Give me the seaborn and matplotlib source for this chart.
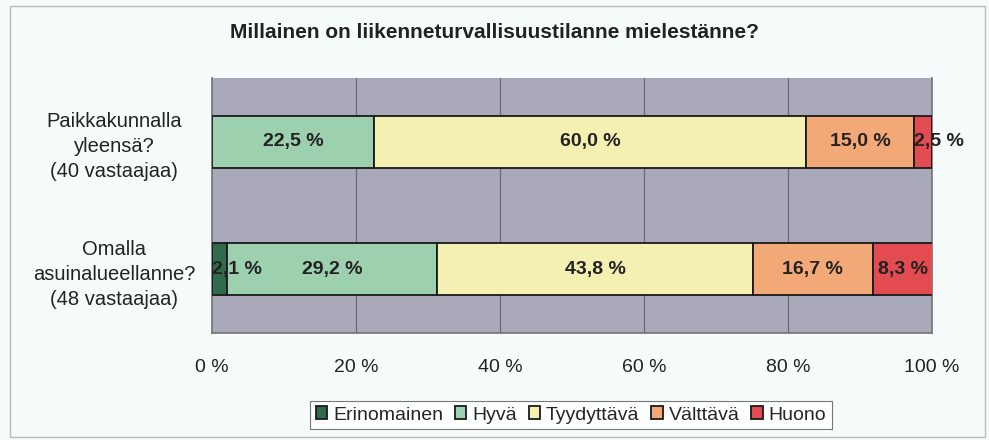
import matplotlib
matplotlib.use("Agg")
import matplotlib.pyplot as plt
import seaborn as sns
import numpy as np
import pandas as pd
from matplotlib.patches import Rectangle

categories = ["Paikkakunnalla\nyleensä?\n(40 vastaajaa)", "Omalla\nasuinalueellanne?\n(48 vastaajaa)"]
series = ["Erinomainen", "Hyvä", "Tyydyttävä", "Välttävä", "Huono"]
erinomainen = [0.0, 2.1]
hyva = [22.5, 29.2]
tyydyttava = [60.0, 43.8]
valttava = [15.0, 16.7]
huono = [2.5, 8.3]
xticks = [0, 20, 40, 60, 80, 100]
colors = ["#2f6b4c", "#9dd0ae", "#f3f0b2", "#f3a877", "#e24b4f"]

sns.set_theme(style="white")
plt.rcParams["font.family"] = ["Liberation Sans", "DejaVu Sans"]

df = pd.DataFrame({"Erinomainen": erinomainen, "Hyvä": hyva, "Tyydyttävä": tyydyttava,
                   "Välttävä": valttava, "Huono": huono}, index=categories)

fig = plt.figure(figsize=(9.89, 4.40), dpi=100, facecolor="#f6fcfc")
ax = fig.add_axes([212/989, 1-333/440, 720/989, 255/440])
ax.set_facecolor("#a9a9b9")

ypos = np.arange(len(categories))
left = np.zeros(len(categories))
handles = []
for s, c in zip(series, colors):
    vals = df[s].values
    h = ax.barh(ypos, vals, left=left, height=0.41, color=c, edgecolor="#1a1a1a",
                linewidth=1.3, label=s, zorder=3)
    handles.append(h)
    for y, v, l in zip(ypos, vals, left):
        if v <= 0:
            continue
        lab = f"{v:.1f} %".replace(".", ",")
        if v < 5:
            ax.text(l, y, lab, ha="left", va="center",
                    fontsize=14, fontweight="bold", color="#222222", zorder=5)
        else:
            ax.text(l + v / 2, y, lab, ha="center", va="center",
                    fontsize=14, fontweight="bold", color="#222222", zorder=5)
    left = left + vals

ax.set_xlim(0, 100)
ax.set_ylim(1.5, -0.5)
ax.set_xticks(xticks)
ax.set_xticklabels([f"{t} %" for t in xticks], fontsize=14, color="#222222")
ax.set_yticks(ypos)
ax.set_yticklabels(categories, fontsize=14.5, color="#222222", linespacing=1.4)
ax.set_yticks([-0.5, 0.5, 1.5], minor=True)
ax.tick_params(axis="y", which="major", length=0, pad=0)
ax.tick_params(axis="y", which="minor", length=5, color="#666666", width=1, direction="out")
ax.tick_params(axis="x", which="major", length=6, color="#666666", width=1, pad=13, direction="out")
for lab in ax.get_yticklabels():
    lab.set_horizontalalignment("center")
    lab.set_x(-(212 - 114) / 720)
for x in xticks[1:-1]:
    ax.axvline(x, color="#6a6a74", linewidth=0.9, zorder=1)
for sp in ax.spines.values():
    sp.set_visible(False)
for side in ["left", "bottom", "right"]:
    ax.spines[side].set_visible(True)
    ax.spines[side].set_color("#777777")

fig.text(494/989, 1 - 32/440, "Millainen on liikenneturvallisuustilanne mielestänne?",
         ha="center", va="center", fontsize=15, fontweight="bold", color="#222222")

leg = fig.legend(handles=handles, labels=series, loc="center", bbox_to_anchor=(571/989, 1-415/440),
                 ncol=5, fontsize=14, frameon=True, fancybox=False, edgecolor="#555555",
                 facecolor="white", handlelength=0.6, handleheight=0.6, handletextpad=0.3,
                 columnspacing=0.6, borderpad=0.3, borderaxespad=0)
leg.get_frame().set_linewidth(0.8)

fig.patches.append(Rectangle((10/989, 3/440), 975/989, 431/440, transform=fig.transFigure,
                             fill=False, edgecolor="#bbbbbb", linewidth=1))

fig.savefig("out.png", dpi=100, facecolor=fig.get_facecolor())
